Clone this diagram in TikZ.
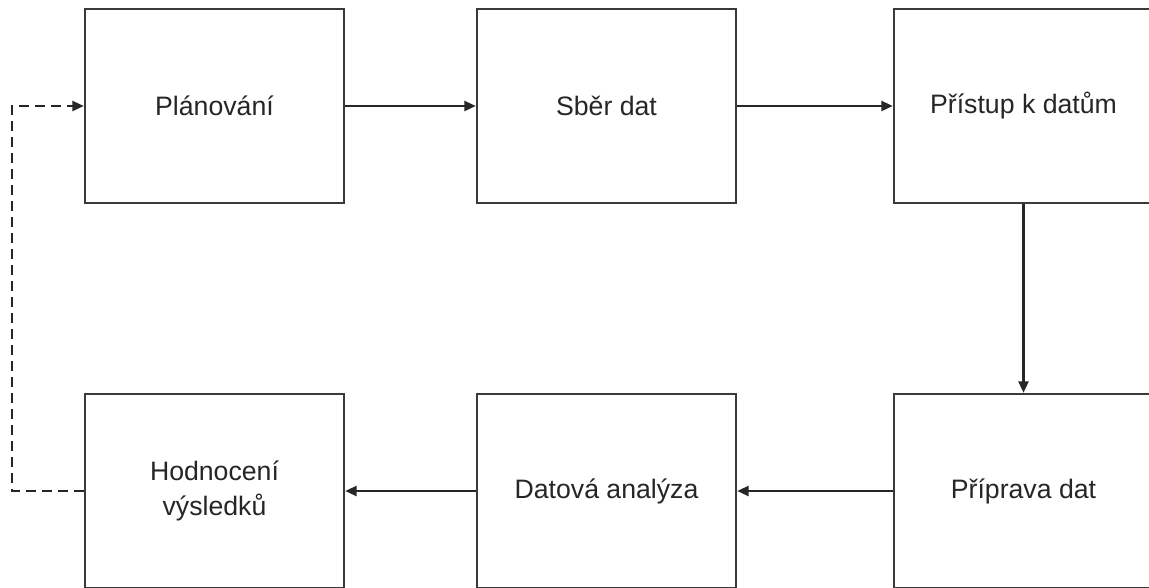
\documentclass[tikz,border=0pt]{standalone}
\usepackage{fontspec}
\setmainfont{Liberation Sans}
\usetikzlibrary{arrows.meta}
\definecolor{linegray}{HTML}{3A3A3A}
\definecolor{textgray}{HTML}{262626}
\begin{document}
\begin{tikzpicture}[x=0.75pt,y=-0.75pt,
  stage/.style={draw=linegray, line width=1.9pt, fill=white,
    minimum width=194.25pt, minimum height=145.5pt, inner sep=0pt,
    font=\fontsize{20}{26}\selectfont, text=textgray, align=center},
  flow/.style={draw=black!85, line width=1.6pt,
    -{Triangle[length=8.5pt,width=7.5pt]}},
  feedback/.style={flow, dash pattern=on 7pt off 5pt}
]
  % page frame; the right-hand boxes run past its edges
  \clip (0,0) rectangle (1149,587);
  \fill[white] (0,0) rectangle (1149,587);

  % top row
  \node[stage] (plan)    at (214.5,106)  {Plánování};
  \node[stage] (sber)    at (606.5,106)  {Sběr dat};
  \node[stage] (pristup) at (1023.5,106) {Přístup k datům};

  % bottom row
  \node[stage] (hodn)     at (214.5,491)  {Hodnocení\\výsledků};
  \node[stage] (analyza)  at (606.5,491)  {Datová analýza};
  \node[stage] (priprava) at (1023.5,491) {Příprava dat};

  % process flow
  \draw[flow] (plan.east) -- (sber.west);
  \draw[flow] (sber.east) -- (pristup.west);
  \draw[flow] (pristup.south) -- (priprava.north);
  \draw[flow] (priprava.west) -- (analyza.east);
  \draw[flow] (analyza.west) -- (hodn.east);

  % feedback loop back to planning
  \coordinate (loopturn) at (12,491);
  \draw[feedback] (hodn.west) -- (loopturn) |- (plan.west);
\end{tikzpicture}
\end{document}
